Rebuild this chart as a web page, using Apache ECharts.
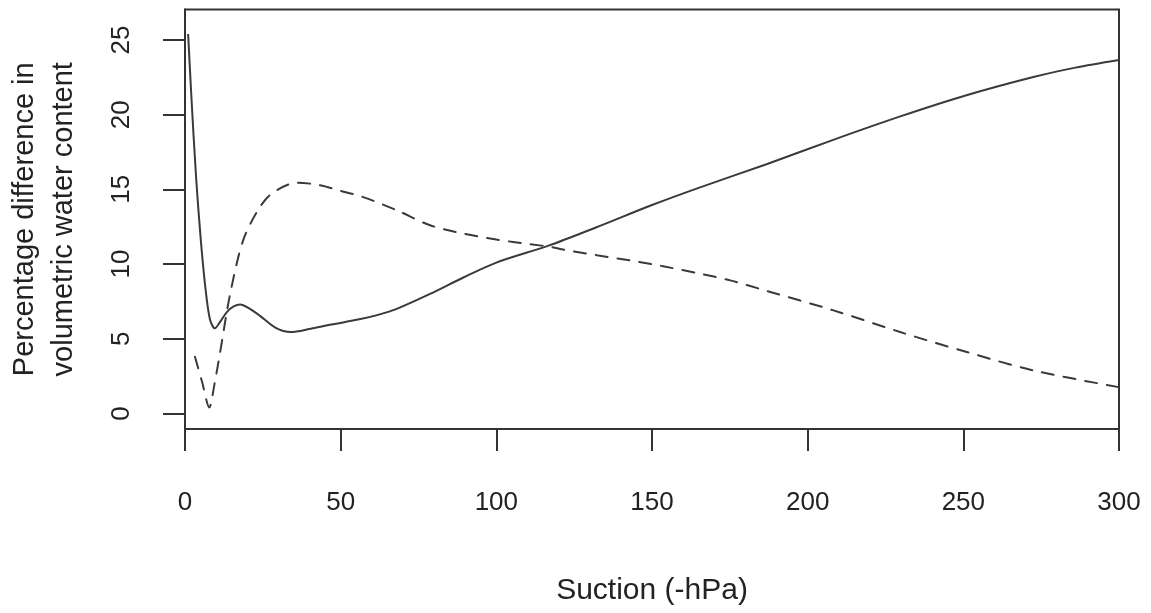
<!DOCTYPE html>
<html>
<head>
<meta charset="utf-8">
<title>Suction vs percentage difference</title>
<script src="https://cdn.jsdelivr.net/npm/echarts@6/dist/echarts.min.js"></script>
<style>
  html, body { margin: 0; padding: 0; background: #ffffff; }
  #chart { width: 1151px; height: 613px; }
</style>
</head>
<body>
<div id="chart"></div>
<script>
// Curve 1 (solid line): suction (-hPa) and percentage difference
const solidSuction = [1, 2, 3.5, 5, 6.5, 8, 9.6, 11.5, 13.5, 15.5, 17.7, 20.5, 24, 29, 34, 40, 47, 56, 62, 68, 78.7, 89.4, 100, 117, 132, 150, 165, 187, 208, 230, 251, 272.5, 286, 300];
const solidDiff = [25.4, 21.4, 16.0, 11.8, 8.5, 6.3, 5.7, 6.2, 6.8, 7.15, 7.3, 7.05, 6.55, 5.75, 5.45, 5.65, 5.95, 6.3, 6.6, 7.0, 8.0, 9.1, 10.1, 11.25, 12.45, 13.95, 15.1, 16.7, 18.3, 19.9, 21.3, 22.52, 23.15, 23.66];

// Curve 2 (dashed line)
const dashedSuction = [3.2, 5.5, 7.8, 9.5, 11.2, 14.5, 18.7, 24, 28.4, 36, 43.4, 50, 57, 68, 78.7, 89.4, 100, 110.8, 118, 121.5, 132.3, 142.9, 153.6, 165.4, 175.1, 186.9, 208.3, 229.7, 251.1, 272.5, 300];
const dashedDiff = [3.8, 2.1, 0.4, 2.0, 4.0, 8.0, 11.6, 13.8, 14.8, 15.45, 15.28, 14.9, 14.5, 13.6, 12.6, 12.04, 11.64, 11.33, 11.13, 10.97, 10.59, 10.25, 9.85, 9.36, 8.91, 8.2, 6.9, 5.45, 4.11, 2.88, 1.76];

// Axis ticks
const xTickValues = [0, 50, 100, 150, 200, 250, 300];
const yTickValues = [0, 5, 10, 15, 20, 25];

const FONT = '"Liberation Sans", Arial, Helvetica, sans-serif';
const INK = '#333333';
const TEXT = '#222222';

const pairs = (xs, ys) => xs.map((x, i) => [x, ys[i]]);

const chart = echarts.init(document.getElementById('chart'), null, { renderer: 'canvas' });

chart.setOption({
  animation: false,
  backgroundColor: '#ffffff',
  grid: {
    left: 185, right: 32, top: 9.5, bottom: 184,
    outerBoundsMode: 'none',
    containLabel: false,
    show: true, borderColor: INK, borderWidth: 2, backgroundColor: 'transparent'
  },
  xAxis: {
    type: 'value',
    min: 0, max: 300,
    axisLine: { show: true, onZero: false, lineStyle: { color: INK, width: 2 } },
    axisTick: { show: true, customValues: xTickValues, length: 22, lineStyle: { color: INK, width: 2 } },
    axisLabel: {
      customValues: xTickValues,
      fontSize: 26, lineHeight: 26, margin: 61,
      color: TEXT, fontFamily: FONT
    },
    splitLine: { show: false },
    name: 'Suction (-hPa)',
    nameLocation: 'middle',
    nameGap: 147,
    nameTextStyle: { fontSize: 30, lineHeight: 30, color: TEXT, fontFamily: FONT }
  },
  yAxis: {
    type: 'value',
    min: -1.04, max: 27.04,
    axisLine: { show: true, onZero: false, lineStyle: { color: INK, width: 2 } },
    axisTick: { show: true, customValues: yTickValues, length: 22, lineStyle: { color: INK, width: 2 } },
    axisLabel: {
      customValues: yTickValues,
      rotate: 90,
      fontSize: 26, lineHeight: 26, margin: 50,
      color: TEXT, fontFamily: FONT
    },
    splitLine: { show: false },
    name: 'Percentage difference in\nvolumetric water content',
    nameLocation: 'middle',
    nameRotate: 90,
    nameGap: 102,
    nameTextStyle: { fontSize: 29, lineHeight: 39, color: TEXT, fontFamily: FONT, align: 'center' }
  },
  series: [
    {
      type: 'line',
      data: pairs(solidSuction, solidDiff),
      smooth: 0.3,
      showSymbol: false,
      lineStyle: { color: '#3a3a3a', width: 2 }
    },
    {
      type: 'line',
      data: pairs(dashedSuction, dashedDiff),
      smooth: 0.3,
      showSymbol: false,
      lineStyle: { color: '#3a3a3a', width: 2, type: [12, 10], cap: 'round' }
    }
  ]
});
</script>
</body>
</html>
